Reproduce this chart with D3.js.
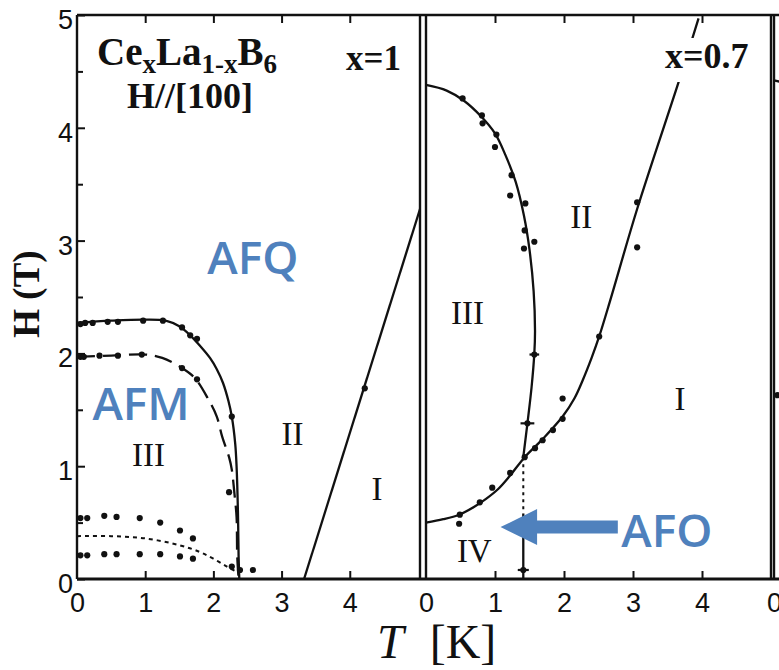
<!DOCTYPE html>
<html>
<head>
<meta charset="utf-8">
<script src="https://cdn.jsdelivr.net/npm/d3@7"></script>
<style>
  body { margin: 0; background: #fff; }
  svg { display: block; }
</style>
</head>
<body>
<svg id="chart" width="779" height="670"></svg>
<script>
// ---- data (T in K, H in T) ----
// x=1 panel
const afmUpper = [[0, 2.27], [0.5, 2.29], [1, 2.3], [1.3, 2.29], [1.5, 2.24], [1.66, 2.16], [1.8, 2.07],
  [1.95, 1.96], [2.05, 1.86], [2.14, 1.74], [2.22, 1.58], [2.27, 1.44], [2.32, 1.2], [2.34, 1.0],
  [2.36, 0.6], [2.37, 0.2], [2.38, 0]];
const afmLower = [[0, 1.97], [0.5, 1.98], [1, 1.99], [1.25, 1.96], [1.54, 1.87], [1.73, 1.78], [1.92, 1.6],
  [2.05, 1.44], [2.13, 1.26], [2.23, 1.08], [2.27, 0.97], [2.31, 0.75], [2.34, 0.55], [2.35, 0.2], [2.37, 0]];
const lowDotted = [[0, 0.38], [0.5, 0.38], [1, 0.36], [1.5, 0.3], [1.8, 0.24], [2.0, 0.18], [2.2, 0.11], [2.35, 0.06]];
const afqLine = [[3.33, 0], [5.03, 3.28]];
const dotsLeft = [
  [0.05, 2.26], [0.12, 2.27], [0.23, 2.27], [0.45, 2.28], [0.6, 2.28], [0.97, 2.29], [1.26, 2.29],
  [1.54, 2.23], [1.76, 2.13], [1.66, 2.16], [2.27, 1.44],
  [0.05, 1.97], [0.1, 1.97], [0.33, 1.98], [0.6, 1.98], [0.95, 1.99], [1.54, 1.87], [1.76, 1.77], [2.23, 0.77],
  [0.05, 0.54], [0.15, 0.54], [0.4, 0.56], [0.58, 0.55], [0.92, 0.54], [1.22, 0.5], [1.51, 0.43], [1.7, 0.36],
  [0.05, 0.21], [0.15, 0.21], [0.4, 0.22], [0.58, 0.22], [0.92, 0.22], [1.22, 0.22], [1.51, 0.2], [1.7, 0.18],
  [2.27, 0.11], [2.39, 0.08], [2.58, 0.08], [4.22, 1.69]];

// x=0.7 panel
const phaseIII = [[0, 4.38], [0.3, 4.33], [0.55, 4.24], [0.8, 4.1], [1.0, 3.95], [1.15, 3.76], [1.3, 3.52],
  [1.42, 3.22], [1.5, 2.92], [1.56, 2.55], [1.58, 2.2], [1.57, 2.0], [1.53, 1.7], [1.47, 1.38], [1.41, 1.08]];
const phaseIVtop = [[0, 0.5], [0.25, 0.53], [0.48, 0.57], [0.7, 0.64], [0.87, 0.71], [1.05, 0.8], [1.21, 0.91],
  [1.43, 1.08], [1.69, 1.24], [1.98, 1.44], [2.15, 1.6], [2.27, 1.76], [2.4, 1.96], [2.51, 2.15], [2.67, 2.47],
  [3.06, 3.28], [3.69, 4.46], [3.95, 4.97]];
const ivDotted = [[1.41, 1.08], [1.41, 0.58]];
const ivSolid = [[1.41, 0.58], [1.41, 0]];
const dotsRight = [
  [0.53, 4.26], [0.81, 4.11], [0.82, 4.04], [1.02, 3.94], [1.0, 3.83], [1.24, 3.58], [1.22, 3.4], [1.44, 3.33],
  [1.43, 3.09], [1.57, 2.99], [1.42, 2.93], [1.57, 1.99], [1.47, 1.38],
  [0.49, 0.57], [0.48, 0.49], [0.78, 0.68], [0.96, 0.81], [1.22, 0.94], [1.43, 1.08], [1.58, 1.16],
  [1.69, 1.23], [1.84, 1.32], [1.98, 1.42], [1.98, 1.6], [2.51, 2.15], [3.06, 3.34], [3.06, 2.94], [1.41, 0.08]];
const errBars = [[1.47, 1.38, 0.1], [1.57, 1.99, 0.07], [1.41, 0.08, 0.08]];

// next panel (cut off at right edge)
const nextStub = [[0, 4.42], [0.15, 4.4]];
const dotsNext = [[0.05, 1.63]];

const yTicks = d3.range(0, 5.01, 0.5);
const xTicks = [0, 1, 2, 3, 4];
const regionLabels = [
  { p: "L", t: 1.05, h: 1.0, s: "III" }, { p: "L", t: 3.16, h: 1.19, s: "II" }, { p: "L", t: 4.4, h: 0.7, s: "I" },
  { p: "R", t: 0.6, h: 2.26, s: "III" }, { p: "R", t: 2.25, h: 3.11, s: "II" }, { p: "R", t: 3.68, h: 1.5, s: "I" },
  { p: "R", t: 0.7, h: 0.15, s: "IV" }];
const phaseNames = [
  { p: "L", t: 2.58, h: 2.7, s: "AFQ" }, { p: "L", t: 0.94, h: 1.41, s: "AFM" }, { p: "R", t: 3.49, h: 0.28, s: "AFO" }];

// ---- layout ----
const svg = d3.select("#chart");
const y = d3.scaleLinear([0, 5], [579, 15]);
const xL = d3.scaleLinear([0, 5.03], [77, 420]);
const xR = d3.scaleLinear([0, 5], [426, 771]);
const x3 = d3.scaleLinear([0, 5], [774, 1119]);
const xs = { L: xL, R: xR };
const blue = "#4f81bd";
const serif = "'Liberation Serif', 'Times New Roman', serif";
const sans = "'Liberation Sans', Arial, sans-serif";

// frames
svg.append("line").attr("x1", 77).attr("x2", 779).attr("y1", y(0)).attr("y2", y(0))
  .attr("stroke", "#111").attr("stroke-width", 2.8);
svg.append("line").attr("x1", 77).attr("x2", 779).attr("y1", y(5)).attr("y2", y(5))
  .attr("stroke", "#111").attr("stroke-width", 2.6);
[xL(0), xL.range()[1], xR(0), xR.range()[1], x3(0)].forEach((px) => {
  svg.append("line").attr("x1", px).attr("x2", px).attr("y1", y(5)).attr("y2", y(0))
    .attr("stroke", "#111").attr("stroke-width", 2.4);
});

// y axis (left panel)
const yAxis = svg.append("g").attr("transform", `translate(${xL(0)},0)`)
  .call(d3.axisLeft(y).tickValues(yTicks).tickSize(-8).tickPadding(4)
    .tickFormat((d) => (Number.isInteger(d) ? d : "")));
yAxis.select(".domain").remove();
yAxis.selectAll(".tick line").attr("stroke", "#111").attr("stroke-width", 2)
  .attr("x2", (d) => (Number.isInteger(d) ? 8 : 6));
yAxis.selectAll("text").attr("font-family", sans).attr("font-size", 27).attr("fill", "#111").attr("dy", "0.5em");

// x axes, bottom and top
function xAxes(scale) {
  const b = svg.append("g").attr("transform", `translate(0,${y(0)})`)
    .call(d3.axisBottom(scale).tickValues(xTicks).tickSize(-8).tickPadding(14).tickFormat(d3.format("d")));
  b.select(".domain").remove();
  b.selectAll(".tick line").attr("stroke", "#111").attr("stroke-width", 2)
    .attr("opacity", (d) => (d === 0 ? 0 : 1));
  b.selectAll("text").attr("font-family", sans).attr("font-size", 27).attr("fill", "#111");
  const t = svg.append("g").attr("transform", `translate(0,${y(5)})`)
    .call(d3.axisTop(scale).tickValues(xTicks.slice(1)).tickSize(-8).tickFormat(""));
  t.select(".domain").remove();
  t.selectAll(".tick line").attr("stroke", "#111").attr("stroke-width", 2);
}
xAxes(xL);
xAxes(xR);
svg.append("g").attr("transform", `translate(0,${y(0)})`)
  .call(d3.axisBottom(x3).tickValues([0]).tickSize(0).tickPadding(14).tickFormat(d3.format("d")))
  .call((g) => g.select(".domain").remove())
  .selectAll("text").attr("font-family", sans).attr("font-size", 27).attr("fill", "#111");

// curves
const curve = (sx) => d3.line().x((d) => sx(d[0])).y((d) => y(d[1])).curve(d3.curveCatmullRom.alpha(0.5));
const plot = (data, sx, dash, w) => svg.append("path").datum(data).attr("d", curve(sx))
  .attr("fill", "none").attr("stroke", "#111").attr("stroke-width", w || 2.3)
  .attr("stroke-dasharray", dash || null);

plot(afmUpper, xL);
plot(afmLower, xL, "18,8");
plot(lowDotted, xL, "4,4", 2);
plot(afqLine, xL);
plot(phaseIII, xR);
plot(phaseIVtop, xR);
plot(ivDotted, xR, "3,4", 2);
plot(ivSolid, xR);
plot(nextStub, x3);

// dots
const dot = (data, sx) => svg.append("g").selectAll("circle").data(data).join("circle")
  .attr("cx", (d) => sx(d[0])).attr("cy", (d) => y(d[1])).attr("r", 3.1).attr("fill", "#111");
dot(dotsLeft, xL);
dot(dotsRight, xR);
dot(dotsNext, x3);
svg.append("g").selectAll("line").data(errBars).join("line")
  .attr("x1", (d) => xR(d[0] - d[2])).attr("x2", (d) => xR(d[0] + d[2]))
  .attr("y1", (d) => y(d[1])).attr("y2", (d) => y(d[1])).attr("stroke", "#111").attr("stroke-width", 2.2);

// panel captions
const title = svg.append("text").attr("x", 97).attr("y", 65).attr("font-family", serif)
  .attr("font-weight", "bold").attr("font-size", 39).attr("fill", "#111");
[["Ce", 0], ["x", 8], ["La", -8], ["1-x", 8], ["B", -8], ["6", 8]].forEach(([s, dy], i) => {
  title.append("tspan").attr("dy", dy).attr("font-size", i % 2 ? 27 : 39).text(s);
});
svg.append("text").attr("x", 127).attr("y", 108).attr("font-family", serif).attr("font-weight", "bold")
  .attr("font-size", 36).attr("fill", "#111").text("H//[100]");
svg.append("text").attr("x", 346).attr("y", 70).attr("font-family", serif).attr("font-weight", "bold")
  .attr("font-size", 35).attr("fill", "#111").text("x=1");
const lab07 = svg.append("text").attr("x", 665).attr("y", 68).attr("font-family", serif).attr("font-weight", "bold")
  .attr("font-size", 36).attr("fill", "#111").text("x=0.7");
const bb = lab07.node().getBBox();
svg.insert("rect", () => lab07.node()).attr("x", bb.x - 4).attr("y", bb.y + 2)
  .attr("width", bb.width + 8).attr("height", bb.height + 4).attr("fill", "#fff");

// region numerals
svg.append("g").selectAll("text").data(regionLabels).join("text")
  .attr("x", (d) => xs[d.p](d.t)).attr("y", (d) => y(d.h)).attr("text-anchor", "middle")
  .attr("font-family", serif).attr("font-size", 33).attr("fill", "#111").text((d) => d.s);

// axis titles
svg.append("text").attr("transform", "translate(39,294) rotate(-90)").attr("text-anchor", "middle")
  .attr("font-family", serif).attr("font-weight", "bold").attr("font-size", 37).attr("fill", "#111").text("H (T)");
const xt = svg.append("text").attr("x", 377).attr("y", 658).attr("font-family", serif)
  .attr("font-size", 48).attr("fill", "#111");
xt.append("tspan").attr("font-style", "italic").text("T");
xt.append("tspan").attr("dx", 26).text("[K]");

// blue annotations
svg.append("g").selectAll("text").data(phaseNames).join("text")
  .attr("x", (d) => xs[d.p](d.t)).attr("y", (d) => y(d.h)).attr("text-anchor", "middle")
  .attr("font-family", "'Open Sans', sans-serif").attr("font-weight", 600).attr("font-size", 46)
  .attr("fill", blue).text((d) => d.s);
const ay = y(0.46);
svg.append("path")
  .attr("d", `M${xR(2.78)},${ay - 6.5}H${xR(1.61)}V${ay - 18}L${xR(1.08)},${ay}L${xR(1.61)},${ay + 18}V${ay + 6.5}H${xR(2.78)}Z`)
  .attr("fill", blue);
</script>
</body>
</html>
